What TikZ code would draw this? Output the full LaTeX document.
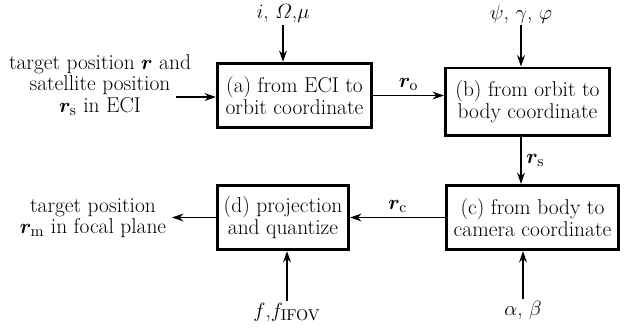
\documentclass[tikz,border=0pt]{standalone}
\usepackage{amsmath}
\usepackage{bm}
\usetikzlibrary{arrows.meta}
\tikzset{
  block/.style={draw, line width=2pt, align=center, inner sep=2pt},
  flow/.style={-{Stealth[length=8pt,width=5.5pt]}, line width=0.9pt},
  txt/.style={align=center, inner sep=1pt}
}
\begin{document}
\begin{tikzpicture}[x=0.7pt, y=-0.7pt, font=\fontsize{15}{15}\selectfont]
            \useasboundingbox (0,0) rectangle (630,330);
            % define blocks
            \node[block, minimum width=108pt, minimum height=45pt] (a) at (294.5, 95.5)
                {(a) from ECI to\\ orbit coordinate};
            \node[block, minimum width=115pt, minimum height=47pt] (b) at (527.5, 101.5)
                {(b) from orbit to\\ body coordinate};
            \node[block, minimum width=120pt, minimum height=45pt] (c) at (532.5, 217.5)
                {(c) from body to\\ camera coordinate};
            \node[block, minimum width=92pt, minimum height=45pt] (d) at (283, 217.5)
                {(d) projection\\ and quantize};
            % inputs and output
            \node[txt] (input) at (100, 85)
                {target position $\bm{r}$ and\\ satellite position\\ $\bm{r}_{\mathrm{s}}$ in ECI};
            \node[txt] (output) at (93, 218)
                {target position\\ $\bm{r}_{\mathrm{m}}$ in focal plane};
            \coordinate (inend)  at (176, 97);
            \coordinate (outend) at (172, 217.5);
            % parameters
            \node[txt] (pa) at (283, 14) {$i$, $\varOmega$,$\mu$};
            \node[txt] (pb) at (521, 14) {$\psi$, $\gamma$, $\varphi$};
            \node[txt] (pd) at (287, 312) {$f$,$f_{\mathrm{IFOV}}$};
            \node[txt] (pc) at (523, 310) {$\alpha$, $\beta$};
            % flows
            \draw[flow] (inend) -- (inend -| a.west);
            \draw[flow] (a.east) -- (a.east -| b.west)
                node [midway, above] {$\bm{r}_{\mathrm{o}}$};
            \draw[flow] (b.south -| pb) -- (c.north -| pb)
                node [midway, right] {$\bm{r}_{\mathrm{s}}$};
            \draw[flow] (c.west) -- (c.west -| d.east)
                node [midway, above] {$\bm{r}_{\mathrm{c}}$};
            \draw[flow] (d.west) -- (outend);
            \draw[flow] (pa.south) -- (a.north -| pa);
            \draw[flow] (pb.south) -- (b.north -| pb);
            \draw[flow] (pd.north) -- (d.south -| pd);
            \draw[flow] (pc.north) -- (c.south -| pc);
        \end{tikzpicture}
\end{document}
